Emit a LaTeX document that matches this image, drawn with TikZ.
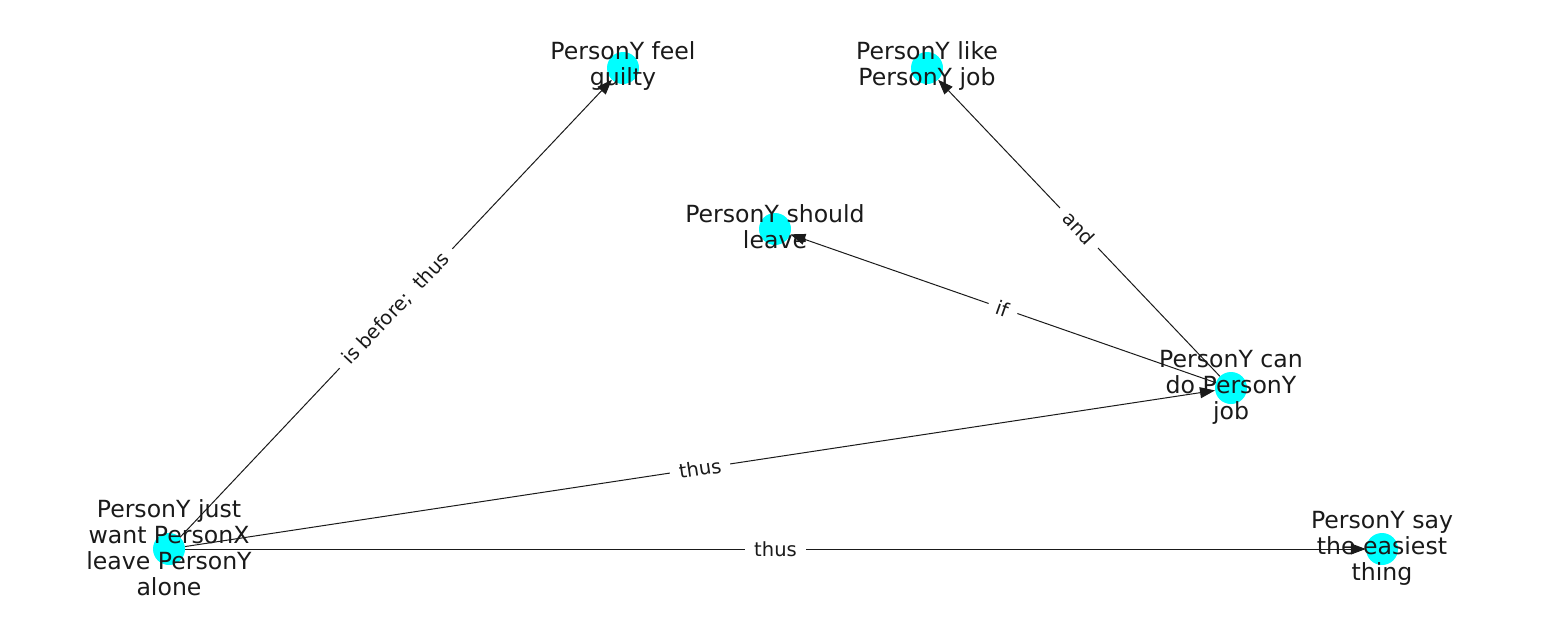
\documentclass[tikz,border=0pt]{standalone}
\usepackage{fontspec}
\setmainfont{DejaVu Sans}
\usetikzlibrary{arrows.meta}
\definecolor{nodecyan}{HTML}{00FFFF}
\definecolor{txt}{HTML}{1A1A1A}
\tikzset{
  dot/.style={circle, fill=nodecyan, draw=none, minimum size=32pt, inner sep=0pt},
  lbl/.style={align=center, text=txt, inner sep=0pt, font=\fontsize{23.6}{26}\selectfont},
  edge/.style={draw=txt, line width=1pt, -{Triangle[length=15pt,width=11pt]}},
  elbl/.style={sloped, fill=white, inner xsep=9pt, inner ysep=4pt, text=txt, font=\fontsize{19.5}{22}\selectfont}
}
\begin{document}
\begin{tikzpicture}[x=1pt,y=-1pt]
\useasboundingbox (0,0) rectangle (1550,616);
\node[dot] (A) at (169,549) {};
\node[dot] (B) at (623,68) {};
\node[dot] (C) at (927,68) {};
\node[dot] (D) at (775,229) {};
\node[dot] (E) at (1231,388) {};
\node[dot] (F) at (1382,549) {};
\draw[edge] (A) -- node[elbl] {is before;\ \ thus} (B);
\draw[edge] (A) -- node[elbl] {thus} (E);
\draw[edge] (A) -- node[elbl] {thus} (F);
\draw[edge] (E) -- node[elbl] {if} (D);
\draw[edge] (E) -- node[elbl] {and} (C);
\node[lbl] (Al) at (169,548) {PersonY just\\want PersonX\\leave PersonY\\alone};
\node[lbl] (Bl) at (623,66) {PersonY feel\\guilty};
\node[lbl] (Cl) at (927,66) {PersonY like\\PersonY job};
\node[lbl] (Dl) at (775,227) {PersonY should\\leave};
\node[lbl] (El) at (1231,387) {PersonY can\\do PersonY\\job};
\node[lbl] (Fl) at (1382,548) {PersonY say\\the easiest\\thing};
\end{tikzpicture}
\end{document}
